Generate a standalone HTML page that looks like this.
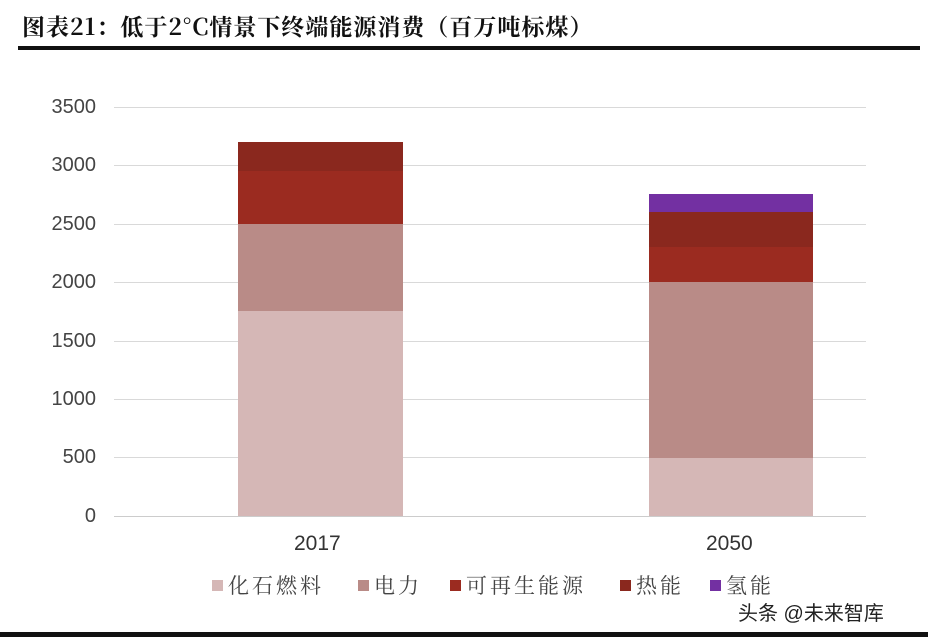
<!DOCTYPE html>
<html><head><meta charset="utf-8"><style>
body{margin:0;background:#fff;width:928px;height:641px;overflow:hidden;position:relative;font-family:"Liberation Sans","Noto Sans CJK SC",sans-serif}
.a{position:absolute}
.yl{position:absolute;left:20px;width:76px;text-align:right;font-size:20px;color:#444}
.g{position:absolute;left:114px;width:752px;height:1px;background:#d9d9d9}
.b{position:absolute}
.lg{position:absolute;top:570px;font-family:"Noto Serif CJK SC","Noto Sans CJK SC",serif;font-size:21px;color:#444;letter-spacing:3px}
.sq{display:inline-block;width:11px;height:11px;margin-right:5px;vertical-align:2px}
</style></head><body>
<div class="a" style="left:22px;top:9px;font-family:'Noto Serif CJK SC',serif;font-size:23px;font-weight:bold;color:#111;letter-spacing:1px">图表21：低于2°C情景下终端能源消费（百万吨标煤）</div>
<div class="a" style="left:18px;top:46px;width:902px;height:4px;background:#111"></div>
<div class="g" style="top:107px"></div><div class="g" style="top:165px"></div><div class="g" style="top:224px"></div><div class="g" style="top:282px"></div><div class="g" style="top:341px"></div><div class="g" style="top:399px"></div><div class="g" style="top:457px"></div><div class="g" style="top:516px;background:#ccc"></div>
<div class="yl" style="top:96px">3500</div><div class="yl" style="top:154px">3000</div><div class="yl" style="top:213px">2500</div><div class="yl" style="top:271px">2000</div><div class="yl" style="top:330px">1500</div><div class="yl" style="top:388px">1000</div><div class="yl" style="top:446px">500</div><div class="yl" style="top:505px">0</div>
<div class="b" style="left:238px;width:165px;top:142px;height:29px;background:#8a281e"></div>
<div class="b" style="left:238px;width:165px;top:171px;height:53px;background:#9b2b20"></div>
<div class="b" style="left:238px;width:165px;top:224px;height:87px;background:#b98b87"></div>
<div class="b" style="left:238px;width:165px;top:311px;height:205px;background:#d5b7b6"></div>
<div class="b" style="left:649px;width:164px;top:194px;height:18px;background:#7330a2"></div>
<div class="b" style="left:649px;width:164px;top:212px;height:35px;background:#8a281e"></div>
<div class="b" style="left:649px;width:164px;top:247px;height:35px;background:#9b2b20"></div>
<div class="b" style="left:649px;width:164px;top:282px;height:176px;background:#b98b87"></div>
<div class="b" style="left:649px;width:164px;top:458px;height:58px;background:#d5b7b6"></div>
<div class="a" style="left:294px;top:532px;font-size:21px;color:#333">2017</div>
<div class="a" style="left:706px;top:532px;font-size:21px;color:#333">2050</div>
<div class="lg" style="left:212px"><span class="sq" style="background:#d5b7b6"></span>化石燃料</div>
<div class="lg" style="left:358px"><span class="sq" style="background:#b98b87"></span>电力</div>
<div class="lg" style="left:450px"><span class="sq" style="background:#9b2b20"></span>可再生能源</div>
<div class="lg" style="left:620px"><span class="sq" style="background:#8a281e"></span>热能</div>
<div class="lg" style="left:710px"><span class="sq" style="background:#7330a2"></span>氢能</div>
<div class="a" style="left:738px;top:597px;font-size:20px;color:#222">头条 @未来智库</div>
<div class="a" style="left:0;top:632px;width:928px;height:5px;background:#111"></div>
</body></html>
